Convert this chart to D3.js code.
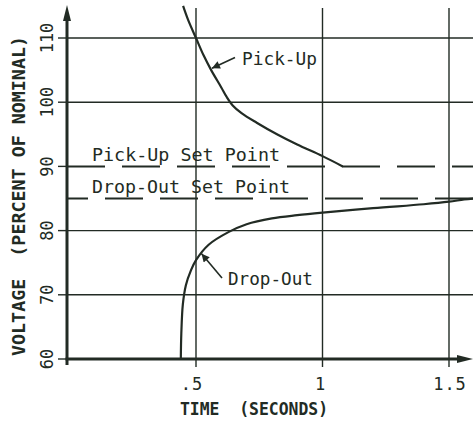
<!DOCTYPE html>
<meta charset="utf-8">
<html>
<head>
    <style>
        body { margin: 0; background: #fff; }
        text { font-family: "DejaVu Sans Mono", "Liberation Mono", monospace; fill: #222b24; }
        text.axis-title { font-size: 18px; font-weight: bold; white-space: pre; }
        text.tick { font-size: 17px; }
        text.note { font-size: 18px; }
        .grid { stroke: #222b24; stroke-width: 1.4px; }
        .axis { stroke: #222b24; stroke-width: 3px; }
        .curve { fill: none; stroke: #222b24; stroke-width: 2.2px; }
        .setpoint { stroke: #222b24; stroke-width: 2px; stroke-dasharray: 38,17; }
    </style>
    <script src="https://cdnjs.cloudflare.com/ajax/libs/d3/7.8.5/d3.min.js"></script>
</head>
<body>
<div id="chart"></div>
<script>
    const W = 473, H = 421;

    // tick values / labels
    const xTicks = [0.5, 1, 1.5];
    const xTickLabels = [".5", "1", "1.5"];
    const yTicks = [60, 70, 80, 90, 100, 110];
    const yGrid = [70, 80, 100, 110];
    const pickUpSet = 90, dropOutSet = 85;

    // curves (seconds, % of nominal)
    const pickUp = [
        [0.449, 115], [0.47, 112.7], [0.50, 110], [0.53, 107.3], [0.56, 105],
        [0.60, 102.3], [0.62, 100.9], [0.645, 99.5], [0.68, 98.3], [0.74, 96.8],
        [0.82, 95], [0.90, 93.4], [1.00, 91.6], [1.08, 90]
    ];
    const dropOut = [
        [0.440, 60], [0.442, 64], [0.448, 68.5], [0.46, 71.5], [0.48, 73.8],
        [0.50, 75.4], [0.55, 77.8], [0.63, 79.8], [0.70, 81], [0.80, 81.9],
        [0.90, 82.4], [1.00, 82.8], [1.20, 83.5], [1.40, 84.1], [1.50, 84.5],
        [1.56, 84.85], [1.60, 85]
    ];

    const x = d3.scaleLinear().domain([0, 1.5]).range([69.5, 449]);
    const y = d3.scaleLinear().domain([60, 110]).range([359, 38]);
    const x0 = 67, xEnd = 473, yTop = 5, yAxis = y(60);

    const svg = d3.select("#chart").append("svg")
        .attr("width", W).attr("height", H);

    const defs = svg.append("defs");
    defs.append("marker").attr("id", "arr")
        .attr("viewBox", "0 0 10 10").attr("refX", 10).attr("refY", 5)
        .attr("markerWidth", 10).attr("markerHeight", 8)
        .attr("markerUnits", "userSpaceOnUse").attr("orient", "auto")
        .append("path").attr("d", "M0,0L10,5L0,10Z").attr("fill", "#222b24");
    defs.append("clipPath").attr("id", "plot")
        .append("rect").attr("x", x0).attr("y", yTop).attr("width", xEnd - x0).attr("height", yAxis - yTop);

    // grid
    svg.selectAll(".hgrid").data(yGrid).enter().append("line")
        .attr("class", "grid")
        .attr("x1", x0).attr("x2", xEnd)
        .attr("y1", d => y(d)).attr("y2", d => y(d));
    svg.selectAll(".vgrid").data(xTicks).enter().append("line")
        .attr("class", "grid")
        .attr("x1", d => x(d)).attr("x2", d => x(d))
        .attr("y1", 8).attr("y2", yAxis + 8);

    // set point dashed lines
    svg.append("line").attr("class", "setpoint")
        .attr("x1", x0).attr("x2", xEnd)
        .attr("y1", y(pickUpSet)).attr("y2", y(pickUpSet));
    svg.append("line").attr("class", "setpoint")
        .style("stroke-dashoffset", 17)
        .attr("x1", x0).attr("x2", xEnd)
        .attr("y1", y(dropOutSet)).attr("y2", y(dropOutSet));

    // curves
    const line = d3.line().x(d => x(d[0])).y(d => y(d[1])).curve(d3.curveCatmullRom);
    svg.append("path").attr("class", "curve").attr("clip-path", "url(#plot)")
        .attr("d", line(pickUp));
    svg.append("path").attr("class", "curve").attr("clip-path", "url(#plot)")
        .attr("d", line(dropOut));

    // axes
    svg.append("line").attr("class", "axis")
        .attr("x1", x0).attr("x2", x0).attr("y1", yAxis + 6).attr("y2", yTop + 12);
    svg.append("path").attr("d", `M${x0},${yTop}L${x0 - 4},${yTop + 16}L${x0 + 4},${yTop + 16}Z`)
        .attr("fill", "#222b24");
    svg.append("line").attr("class", "axis")
        .attr("x1", x0 - 1.5).attr("x2", xEnd - 10).attr("y1", yAxis).attr("y2", yAxis);
    svg.append("path").attr("d", `M${xEnd},${yAxis}L${xEnd - 16},${yAxis - 4}L${xEnd - 16},${yAxis + 4}Z`)
        .attr("fill", "#222b24");

    svg.selectAll(".ytickmark").data(yTicks).enter().append("line")
        .attr("class", "grid")
        .attr("x1", x0 - 9).attr("x2", x0)
        .attr("y1", d => y(d)).attr("y2", d => y(d));

    // tick labels
    svg.selectAll(".ylab").data(yTicks).enter().append("text")
        .attr("class", "tick")
        .attr("text-anchor", "middle")
        .attr("transform", d => `translate(53,${y(d)}) rotate(-90)`)
        .text(d => d);
    svg.selectAll(".xlab").data(xTicks).enter().append("text")
        .attr("class", "tick")
        .attr("text-anchor", "middle")
        .attr("x", (d, i) => x(d) - (i === 0 ? 4 : (i === 2 ? -1 : 2)))
        .attr("y", 390)
        .style("letter-spacing", "1px")
        .text((d, i) => xTickLabels[i]);

    // axis titles
    svg.append("text").attr("class", "axis-title")
        .attr("text-anchor", "middle")
        .attr("x", 254).attr("y", 415)
        .attr("textLength", 148).attr("lengthAdjust", "spacingAndGlyphs")
        .text("TIME  (SECONDS)");
    svg.append("text").attr("class", "axis-title")
        .attr("text-anchor", "middle")
        .attr("transform", "translate(25,196) rotate(-90)")
        .attr("textLength", 320).attr("lengthAdjust", "spacingAndGlyphs")
        .text("VOLTAGE  (PERCENT OF NOMINAL)");

    // annotations
    svg.append("text").attr("class", "note")
        .attr("x", 92).attr("y", 161)
        .attr("textLength", 188).attr("lengthAdjust", "spacingAndGlyphs")
        .text("Pick-Up Set Point");
    svg.append("text").attr("class", "note")
        .attr("x", 92).attr("y", 193)
        .attr("textLength", 198).attr("lengthAdjust", "spacingAndGlyphs")
        .text("Drop-Out Set Point");

    svg.append("text").attr("class", "note")
        .attr("x", 242).attr("y", 65)
        .attr("textLength", 75).attr("lengthAdjust", "spacingAndGlyphs")
        .text("Pick-Up");
    svg.append("line").attr("stroke", "#222b24").attr("stroke-width", 1.6)
        .attr("marker-end", "url(#arr)")
        .attr("x1", 235).attr("y1", 57.5).attr("x2", x(0.563)).attr("y2", y(105.3));

    svg.append("text").attr("class", "note")
        .attr("x", 228).attr("y", 285)
        .attr("textLength", 85).attr("lengthAdjust", "spacingAndGlyphs")
        .text("Drop-Out");
    svg.append("line").attr("stroke", "#222b24").attr("stroke-width", 1.6)
        .attr("marker-end", "url(#arr)")
        .attr("x1", 222).attr("y1", 278).attr("x2", x(0.522)).attr("y2", y(76.4));
</script>
</body>
</html>
